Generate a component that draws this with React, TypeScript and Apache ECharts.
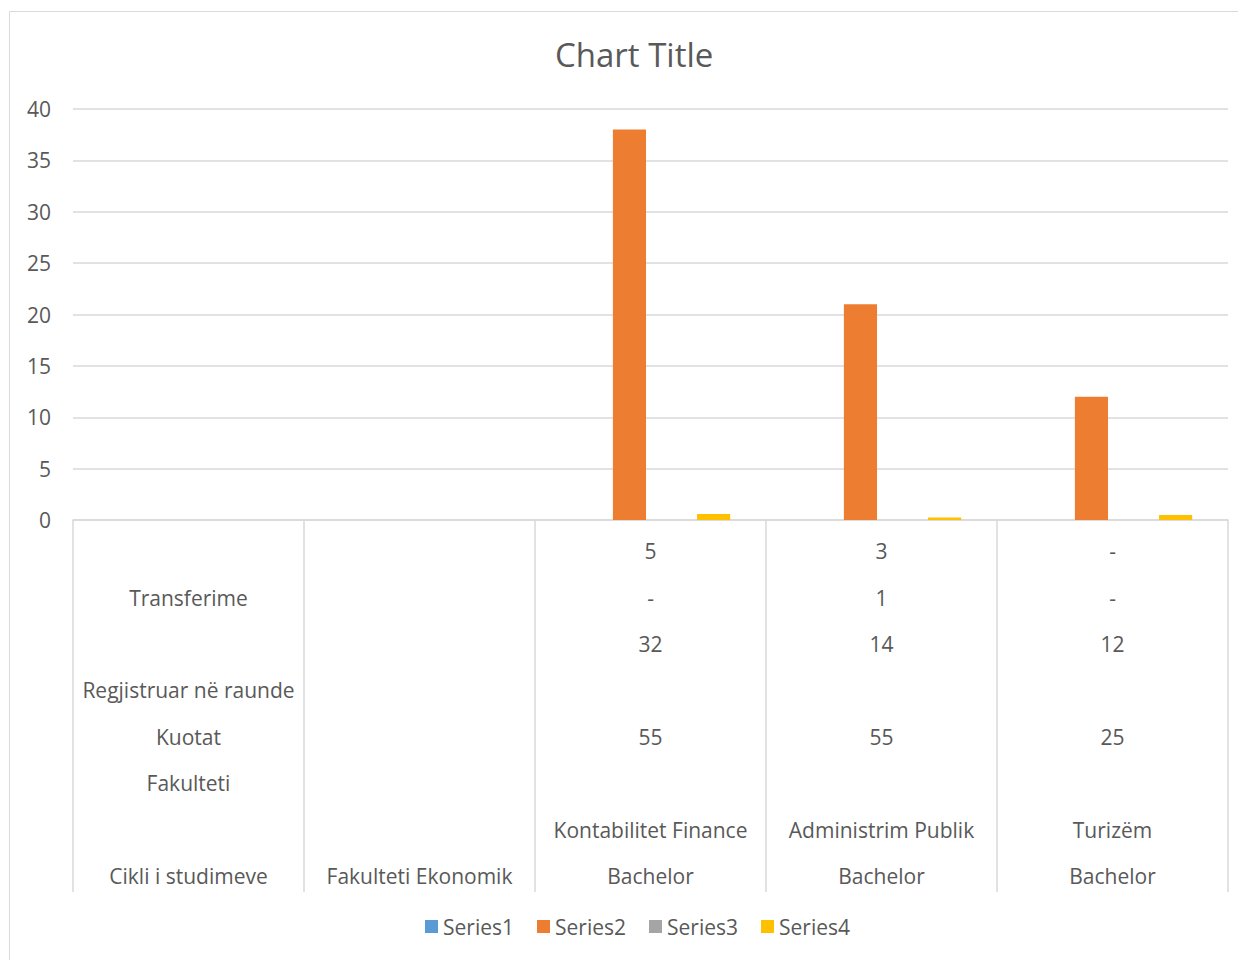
import React, { useEffect, useRef } from "react";
import * as echarts from "echarts";

const row1 = ["", "", "5", "3", "-"];
const row2 = ["Transferime", "", "-", "1", "-"];
const row3 = ["", "", "32", "14", "12"];
const row4 = ["Regjistruar në raunde", "", "", "", ""];
const row5 = ["Kuotat", "", "55", "55", "25"];
const row6 = ["Fakulteti", "", "", "", ""];
const row7 = ["", "", "Kontabilitet Finance", "Administrim Publik", "Turizëm"];
const row8 = ["Cikli i studimeve", "Fakulteti Ekonomik", "Bachelor", "Bachelor", "Bachelor"];

const labelRows = [row1, row2, row3, row4, row5, row6, row7, row8];
const categories = row1.map((_, i) => labelRows.map((r) => r[i]).join("\n"));

const seriesNames = ["Series1", "Series2", "Series3", "Series4"];
const series1: (number | null)[] = [null, null, null, null, null];
const series2: (number | null)[] = [null, null, 38, 21, 12];
const series3: (number | null)[] = [null, null, null, null, null];
const series4: (number | null)[] = [null, null, 0.58, 0.25, 0.48];
const colors = ["#5b9bd5", "#ed7d31", "#a5a5a5", "#ffc000"];

const FONT = "Open Sans";
const TEXT = "#595959";
const LINE = "#d9d9d9";

export default function App() {
  const ref = useRef<HTMLDivElement>(null);
  useEffect(() => {
    if (!ref.current) return;
    const chart = echarts.init(ref.current, undefined, { renderer: "svg" });
    const data = [series1, series2, series3, series4];
    chart.setOption({
      animation: false,
      backgroundColor: "#ffffff",
      textStyle: { fontFamily: FONT },
      graphic: [
        {
          type: "rect",
          shape: { x: 1.5, y: 3.5, width: 1300, height: 1000 },
          style: { fill: "none", stroke: LINE, lineWidth: 1 },
          silent: true,
        },
      ],
      title: {
        text: "Chart Title",
        left: 542,
        top: 25,
        textStyle: { fontFamily: FONT, fontSize: 33, fontWeight: "normal", color: TEXT },
      },
      legend: {
        data: seriesNames,
        bottom: 18,
        left: 412,
        itemWidth: 13,
        itemHeight: 13,
        itemGap: 23,
        icon: "rect",
        textStyle: { fontFamily: FONT, fontSize: 21, color: TEXT },
      },
      grid: { left: 65, right: 18, top: 101, height: 411, containLabel: false },
      xAxis: {
        type: "category",
        data: categories,
        axisLine: { lineStyle: { color: LINE, width: 1.5 } },
        axisTick: { show: true, length: 372, lineStyle: { color: LINE, width: 1.5 } },
        axisLabel: {
          interval: 0,
          margin: 8,
          fontFamily: FONT,
          fontSize: 21,
          color: TEXT,
          lineHeight: 46.4,
          align: "center",
          verticalAlign: "top",
        },
        splitLine: { show: false },
      },
      yAxis: {
        type: "value",
        min: 0,
        max: 40,
        interval: 5,
        axisLine: { show: false },
        axisTick: { show: false },
        axisLabel: { fontFamily: FONT, fontSize: 21, color: TEXT, margin: 22 },
        splitLine: { lineStyle: { color: LINE, width: 1.5 } },
      },
      series: seriesNames.map((name, i) => ({
        name,
        type: "bar",
        data: data[i],
        itemStyle: { color: colors[i] },
        barGap: "27%",
        barCategoryGap: "31%",
      })),
    });
    return () => chart.dispose();
  }, []);
  return <div ref={ref} style={{ width: 1238, height: 952 }} />;
}
